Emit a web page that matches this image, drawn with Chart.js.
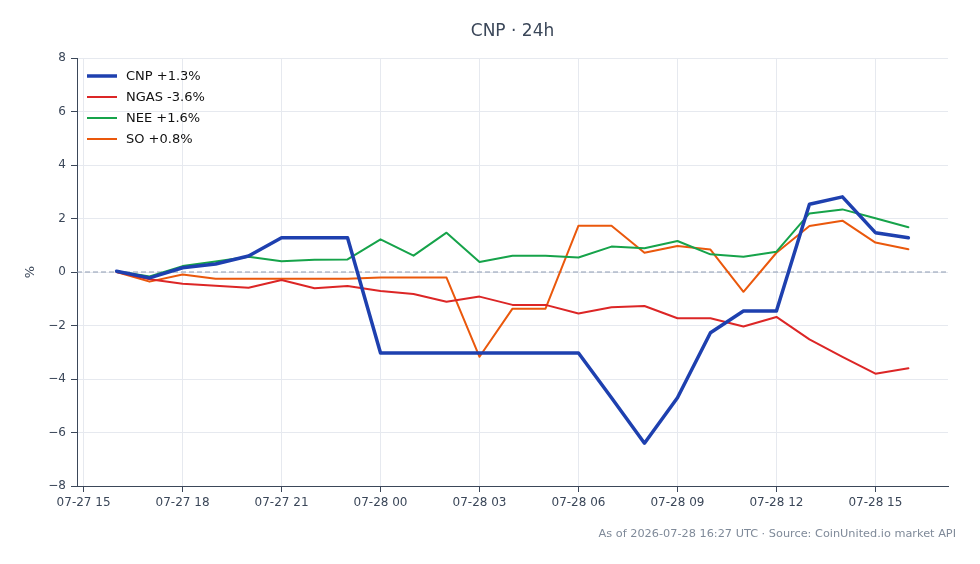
<!DOCTYPE html>
<html>
<head>
<meta charset="utf-8">
<title>CNP · 24h</title>
<script src="https://cdn.jsdelivr.net/npm/chart.js@4.4.1/dist/chart.umd.min.js"></script>
<style>
  html, body { margin: 0; padding: 0; background: #fff; }
  #wrap { width: 980px; height: 564px; position: relative; }
</style>
</head>
<body>
<div id="wrap"><canvas id="myChart"></canvas></div>
<script>
// hourly samples, 24h window
const times = ['07-27 16', '07-27 17', '07-27 18', '07-27 19', '07-27 20', '07-27 21', '07-27 22', '07-27 23',
  '07-28 00', '07-28 01', '07-28 02', '07-28 03', '07-28 04', '07-28 05', '07-28 06', '07-28 07',
  '07-28 08', '07-28 09', '07-28 10', '07-28 11', '07-28 12', '07-28 13', '07-28 14', '07-28 15', '07-28 16'];

const cnp  = [0.03, -0.22, 0.16, 0.30, 0.60, 1.28, 1.28, 1.28, -3.03, -3.03, -3.03, -3.03, -3.03, -3.03, -3.03, -4.70,
  -6.40, -4.70, -2.27, -1.46, -1.46, 2.53, 2.81, 1.47, 1.28];
const ngas = [0.0, -0.27, -0.44, -0.51, -0.59, -0.30, -0.61, -0.52, -0.71, -0.82, -1.11, -0.92, -1.23, -1.23, -1.55, -1.32,
  -1.27, -1.73, -1.73, -2.04, -1.68, -2.52, -3.17, -3.80, -3.60];
const nee  = [0.03, -0.17, 0.22, 0.39, 0.57, 0.40, 0.46, 0.47, 1.22, 0.61, 1.47, 0.37, 0.61, 0.61, 0.54, 0.95,
  0.89, 1.16, 0.66, 0.57, 0.76, 2.19, 2.34, 2.01, 1.67];
const so   = [0.0, -0.36, -0.09, -0.25, -0.25, -0.25, -0.25, -0.25, -0.21, -0.21, -0.21, -3.17, -1.37, -1.37, 1.73, 1.73,
  0.72, 0.97, 0.84, -0.74, 0.72, 1.72, 1.92, 1.10, 0.85];

const seriesNames = ['CNP +1.3%', 'NGAS -3.6%', 'NEE +1.6%', 'SO +0.8%'];
const xTickLabels = ['07-27 15', '07-27 18', '07-27 21', '07-28 00', '07-28 03', '07-28 06', '07-28 09', '07-28 12', '07-28 15'];
const yTicks = [-8, -6, -4, -2, 0, 2, 4, 6, 8];

const titleText = 'CNP · 24h';
const footerText = 'As of 2026-07-28 16:27 UTC · Source: CoinUnited.io market API';

const ink = '#3b4759';
const gridColor = '#e6e9ef';
const font = 'DejaVu Sans';

// "07-27 16" -> hours since 07-27 00:00
function toHour(s) {
  const day = parseInt(s.slice(3, 5), 10);
  const hr = parseInt(s.slice(6, 8), 10);
  return (day - 27) * 24 + hr;
}

function points(values) {
  return values.map((v, i) => ({ x: toHour(times[i]), y: v }));
}

const xStart = toHour(times[0]);
const xEnd = toHour(times[times.length - 1]);
const xPad = (xEnd - xStart) * 0.05;

// title, axis label, footer, zero line and in-plot legend
const decor = {
  id: 'decor',
  beforeDatasetsDraw(chart) {
    const { ctx, chartArea, scales } = chart;
    const y0 = scales.y.getPixelForValue(0);
    ctx.save();
    ctx.strokeStyle = '#8d9bb2';
    ctx.lineWidth = 1;
    ctx.setLineDash([5, 3]);
    ctx.beginPath();
    ctx.moveTo(chartArea.left, y0);
    ctx.lineTo(chartArea.right, y0);
    ctx.stroke();
    ctx.restore();
  },
  afterDraw(chart) {
    const { ctx, chartArea } = chart;
    ctx.save();
    ctx.fillStyle = ink;
    ctx.font = `17px "${font}"`;
    ctx.textAlign = 'center';
    ctx.textBaseline = 'middle';
    ctx.fillText(titleText, (chartArea.left + chartArea.right) / 2, 32);

    ctx.font = `13px "${font}"`;
    ctx.translate(31, (chartArea.top + chartArea.bottom) / 2);
    ctx.rotate(-Math.PI / 2);
    ctx.fillText('%', 0, 0);
    ctx.setTransform(1, 0, 0, 1, 0, 0);

    ctx.fillStyle = '#7f8a99';
    ctx.font = `11.3px "${font}"`;
    ctx.textAlign = 'right';
    ctx.fillText(footerText, 956, 534);

    // legend
    const lx = chartArea.left + 10;
    let ly = chartArea.top + 18;
    ctx.textAlign = 'left';
    ctx.font = `13px "${font}"`;
    chart.data.datasets.forEach((ds) => {
      if (!ds.inLegend) return;
      ctx.strokeStyle = ds.borderColor;
      ctx.lineWidth = ds.borderWidth;
      ctx.beginPath();
      ctx.moveTo(lx, ly);
      ctx.lineTo(lx + 30, ly);
      ctx.stroke();
      ctx.fillStyle = '#111';
      ctx.fillText(ds.label, lx + 39, ly + 1);
      ly += 21;
    });
    ctx.restore();
  }
};

const colors = ['#1e40af', '#dc2626', '#16a34a', '#ea580c'];
const widths = [3.5, 2, 2, 2];
const allSeries = [cnp, ngas, nee, so];

const datasets = allSeries.map((vals, i) => ({
  label: seriesNames[i],
  data: points(vals),
  borderColor: colors[i],
  backgroundColor: colors[i],
  borderWidth: widths[i],
  borderJoinStyle: 'round',
  borderCapStyle: 'round',
  pointRadius: 0,
  tension: 0,
  fill: false,
  order: i,
  inLegend: true
}));

const ctx = document.getElementById('myChart').getContext('2d');
const chart = new Chart(ctx, {
  type: 'line',
  data: { datasets: datasets },
  options: {
    responsive: true,
    maintainAspectRatio: false,
    animation: false,
    layout: { padding: { top: 58, right: 32, bottom: 38, left: 0 } },
    plugins: {
      legend: { display: false },
      title: { display: false },
      tooltip: { enabled: false }
    },
    scales: {
      x: {
        type: 'linear',
        min: xStart - xPad,
        max: xEnd + xPad,
        afterFit(scale) { scale.height = 40; },
        afterBuildTicks(scale) {
          scale.ticks = xTickLabels.map(s => ({ value: toHour(s) }));
        },
        ticks: {
          autoSkip: false,
          maxRotation: 0,
          padding: 4,
          color: ink,
          font: { family: font, size: 12 },
          callback: (v, i) => xTickLabels[i]
        },
        grid: { color: gridColor, tickColor: ink, tickLength: 6, drawTicks: true },
        border: { color: ink, width: 1 }
      },
      y: {
        min: -8,
        max: 8,
        afterFit(scale) { scale.width = 77; },
        afterBuildTicks(scale) {
          scale.ticks = yTicks.map(v => ({ value: v }));
        },
        ticks: {
          padding: 5,
          color: ink,
          font: { family: font, size: 12 },
          callback: (v) => (v < 0 ? '\u2212' + Math.abs(v) : String(v))
        },
        grid: { color: gridColor, tickColor: ink, tickLength: 6, drawTicks: true },
        border: { color: ink, width: 1 }
      }
    }
  },
  plugins: [decor]
});
</script>
</body>
</html>
